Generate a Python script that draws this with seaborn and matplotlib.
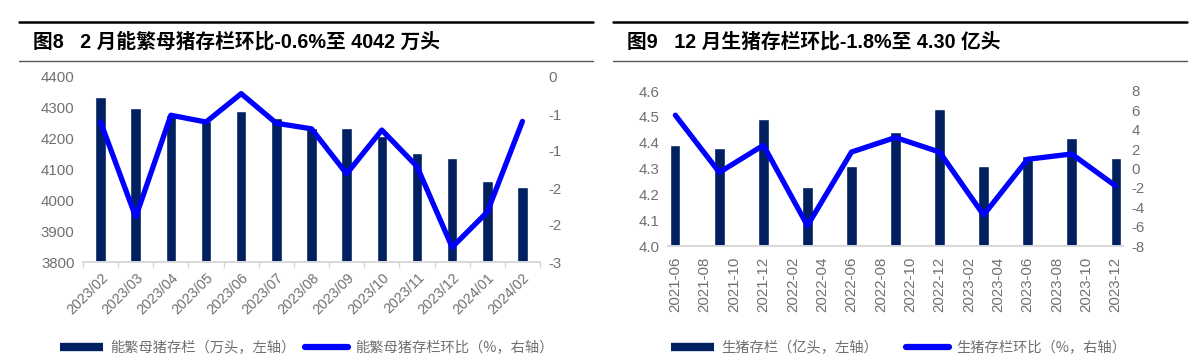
import numpy as np
import pandas as pd
import seaborn as sns
import matplotlib
matplotlib.use("Agg")
import matplotlib.pyplot as plt
from matplotlib.lines import Line2D
from matplotlib.ticker import FixedLocator, FormatStrFormatter

# ---- data: left chart (能繁母猪) ----
sow_months = ["2023/02", "2023/03", "2023/04", "2023/05", "2023/06", "2023/07", "2023/08",
              "2023/09", "2023/10", "2023/11", "2023/12", "2024/01", "2024/02"]
sow_stock = [4335, 4298, 4276, 4256, 4291, 4266, 4235, 4234, 4210, 4155, 4136, 4062, 4042]
sow_mom = [-0.73, -2.27, -0.62, -0.73, -0.27, -0.75, -0.84, -1.57, -0.86, -1.45, -2.76, -2.19, -0.72]

# ---- data: right chart (生猪) ----
hog_axis_months = [f"{y}-{m:02d}" for y in (2021, 2022, 2023) for m in range(1, 13)][5:]
hog_quarters = ["2021-06", "2021-09", "2021-12", "2022-03", "2022-06", "2022-09",
                "2022-12", "2023-03", "2023-06", "2023-09", "2023-12"]
hog_stock = [4.39, 4.38, 4.49, 4.23, 4.31, 4.44, 4.53, 4.31, 4.35, 4.42, 4.34]
hog_mom = [5.5, -0.4, 2.4, -5.9, 1.7, 3.2, 1.7, -4.8, 0.95, 1.5, -1.8]

NAVY = "#002060"
BLUE = "#0000FF"
GREY = "#707070"

sns.set_style("white")
plt.rcParams["font.family"] = ["Liberation Sans", "Noto Sans CJK SC", "DejaVu Sans"]
plt.rcParams["axes.unicode_minus"] = False

fig = plt.figure(figsize=(12, 3.61), dpi=100)
W, H = 1200, 361


def px_axes(x0, y0, x1, y1):
    return fig.add_axes([x0 / W, 1 - y1 / H, (x1 - x0) / W, (y1 - y0) / H])


def style(ax):
    for s in ["top", "right", "left"]:
        ax.spines[s].set_visible(False)
    ax.spines["bottom"].set_color("#D9D9D9")
    ax.spines["bottom"].set_linewidth(1.3)
    ax.tick_params(axis="y", length=0, labelsize=10.8, labelcolor=GREY, pad=6)
    ax.set_xlabel("")
    ax.set_ylabel("")


def header(x0, x1, text):
    fig.add_artist(Line2D([x0 / W, x1 / W], [1 - 22 / H] * 2, color="black", lw=1.8))
    fig.add_artist(Line2D([x0 / W, x1 / W], [1 - 61 / H] * 2, color="#555555", lw=1.0))
    fig.text((x0 + 14) / W, 1 - 42 / H, text, fontsize=14.2, fontweight="bold",
             va="center", ha="left", color="black")


def legend(x0, labels, colspace):
    fig.legend(handles=[Line2D([], [], color=NAVY, lw=6, solid_capstyle="butt"),
                        Line2D([], [], color=BLUE, lw=4.5, solid_capstyle="round")],
               labels=labels, loc="center left", bbox_to_anchor=(x0 / W, 1 - 348 / H),
               ncol=2, frameon=False, prop={"family": ["Noto Sans CJK SC"], "size": 10.3},
               labelcolor=GREY, handlelength=3.0, handletextpad=0.5,
               columnspacing=colspace, borderaxespad=0, borderpad=0)


# ---------------- left chart ----------------
ax1 = px_axes(83, 77, 540, 262)
sns.barplot(x=sow_months, y=sow_stock, color=NAVY, width=0.3, saturation=1, ax=ax1)
ax1.set_ylim(3800, 4400)
ax1.set_yticks(np.arange(3800, 4401, 100))
ax1b = ax1.twinx()
sns.lineplot(x=np.arange(len(sow_months)), y=sow_mom, color=BLUE, lw=3.8,
             solid_joinstyle="round", solid_capstyle="round", ax=ax1b)
ax1b.set_ylim(-3, 0)
ax1b.yaxis.set_major_locator(FixedLocator(np.linspace(0, -3, 6)))
ax1b.yaxis.set_major_formatter(FormatStrFormatter("%.0f"))
ax1.set_xlim(-0.5, len(sow_months) - 0.5)
style(ax1)
style(ax1b)
ax1.set_xticks(np.arange(len(sow_months)))
ax1.set_xticklabels(sow_months, rotation=45, ha="right", rotation_mode="anchor")
ax1.xaxis.set_minor_locator(FixedLocator(np.arange(-0.5, len(sow_months), 1)))
ax1.tick_params(axis="x", which="major", length=0, labelsize=10.3, labelcolor=GREY, pad=6)
ax1.tick_params(axis="x", which="minor", length=4, color="#D9D9D9", width=1, bottom=True)

header(19, 593, "图8   2 月能繁母猪存栏环比-0.6%至 4042 万头")
legend(60, ["能繁母猪存栏（万头，左轴）", "能繁母猪存栏环比（%，右轴）"], 0.7)

# ---------------- right chart ----------------
ax2 = px_axes(668, 91, 1123, 246)
sns.barplot(x=hog_quarters, y=hog_stock, order=hog_axis_months, color=NAVY, width=0.7,
            saturation=1, ax=ax2)
ax2.set_ylim(4.0, 4.6)
ax2.set_yticks(np.arange(4.0, 4.61, 0.1))
ax2.yaxis.set_major_formatter(FormatStrFormatter("%.1f"))
ax2b = ax2.twinx()
hog_pos = [hog_axis_months.index(m) for m in hog_quarters]
sns.lineplot(x=hog_pos, y=hog_mom, color=BLUE, lw=3.8,
             solid_joinstyle="round", solid_capstyle="round", ax=ax2b)
ax2b.set_ylim(-8, 8)
ax2b.set_yticks(np.arange(-8, 9, 2))
ax2.set_xlim(-0.5, len(hog_axis_months) - 0.5)
style(ax2)
style(ax2b)
ax2.set_xticks(np.arange(0, len(hog_axis_months), 2))
ax2.set_xticklabels(hog_axis_months[::2], rotation=90)
ax2.tick_params(axis="x", length=0, labelsize=10.8, labelcolor=GREY, pad=8)

header(613, 1187, "图9   12 月生猪存栏环比-1.8%至 4.30 亿头")
legend(671, ["生猪存栏（亿头，左轴）", "生猪存栏环比（%，右轴）"], 2.0)

fig.savefig("out.png", dpi=100)
